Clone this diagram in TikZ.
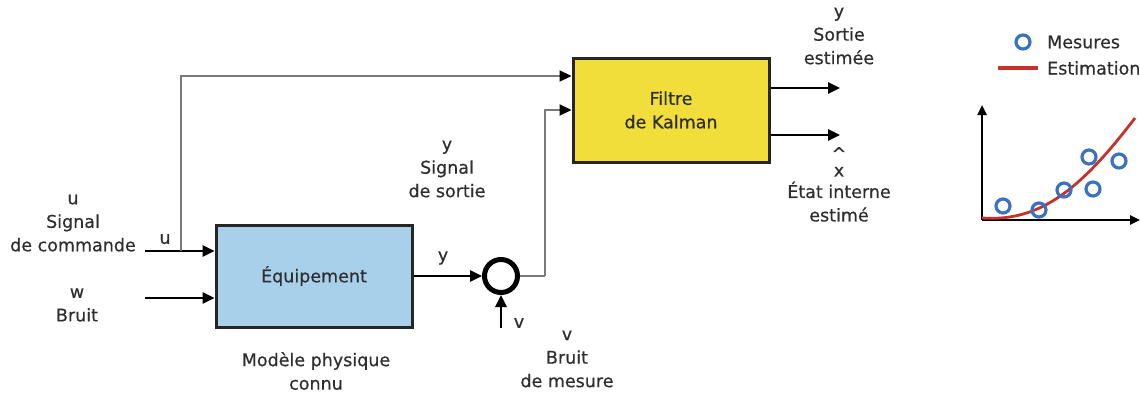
\documentclass[tikz,border=0pt]{standalone}
\usepackage{fontspec}
\setmainfont{DejaVu Sans}[FakeBold=0.5]
\usetikzlibrary{arrows.meta}
\definecolor{txt}{HTML}{2E2E2E}
\definecolor{boxblue}{HTML}{A9D0EB}
\definecolor{boxyellow}{HTML}{F1DE3A}
\definecolor{linegray}{HTML}{7A7A7A}
\definecolor{mblue}{HTML}{3B72C0}
\definecolor{ered}{HTML}{C8302A}
\begin{document}
\begin{tikzpicture}[x=1pt,y=-1pt,
  every node/.style={font=\fontsize{17.5}{23.5}\selectfont, text=txt},
  lbl/.style={align=center, inner sep=0pt},
  blockbox/.style={draw=black!85, line width=3pt, minimum width=196pt, minimum height=102pt, inner sep=0pt, align=center},
  arr/.style={line width=2.6pt, black, -{Triangle[length=12pt,width=11pt]}},
  garr/.style={line width=2.2pt, linegray, -{Triangle[length=12pt,width=11pt,color=black]}},
  gline/.style={line width=2.2pt, linegray},
  meas/.style={circle, draw=mblue, line width=3.2pt, minimum size=14pt, inner sep=0pt},
  axisarr/.style={line width=2.4pt, black, -{Triangle[length=10pt,width=9pt]}}
]
\useasboundingbox (0,0) rectangle (1140,394);

% blocks
\node[blockbox, fill=boxblue] (eq) at (314,276) {Équipement};
\node[blockbox, fill=boxyellow, minimum height=104pt] (kf) at (671,110) {Filtre\\de Kalman};
\node[circle, draw=black, line width=5pt, minimum size=33pt, inner sep=0pt] (sum) at (501,276) {};

% labels
\node[lbl] (ulab) at (73,223) {u\\Signal\\de commande};
\node[lbl] (wlab) at (77,305) {w\\Bruit};
\node[lbl] (ulab2) at (165,239) {u};
\node[lbl] (ylab) at (443,258) {y};
\node[lbl] (vlab) at (519,323) {v};
\node[lbl] (ysort) at (447,169) {y\\Signal\\de sortie};
\node[lbl] (model) at (316,371) {Modèle physique\\connu};
\node[lbl] (vbruit) at (567,359) {v\\Bruit\\de mesure};
\node[lbl] (yest) at (839,36) {y\\Sortie\\estimée};
\node[lbl, anchor=north] (xest) at (839,147) {\textasciicircum\\[-7pt]x\\[-2pt]État interne\\estimé};

% coordinates for free ends
\coordinate (uin) at (145,251);
\coordinate (win) at (145,298);
\coordinate (branch) at (181,251);
\coordinate (top) at (181,76);
\coordinate (kin2) at (545,110);
\coordinate (turn) at (545,276);
\coordinate (vin) at (501,328);
\coordinate (out1) at (840,88);
\coordinate (out2) at (840,135);

% connectors
\draw[arr] (uin) -- (eq.west |- uin);
\draw[arr] (win) -- (eq.west |- win);
\draw[garr] (branch) -- (top) -- (kf.west |- top);
\draw[arr] (eq.east |- sum) -- (sum.west);
\draw[arr] (vin) -- (sum.south);
\draw[gline] (sum.east) -- (turn);
\draw[garr] (turn) -- (kin2) -- (kf.west |- kin2);
\draw[arr] (kf.east |- out1) -- (out1);
\draw[arr] (kf.east |- out2) -- (out2);

% chart
\coordinate (org) at (982,220);
\coordinate (yax) at (982,105);
\coordinate (xax) at (1140,220);
\draw[axisarr] (org) -- (yax);
\draw[axisarr] (org) -- (xax);
\draw[ered, line width=2.8pt] (982,218) .. controls (1040,222) and (1080,190) .. (1135,118);
\node[meas] (m1) at (1003,206) {};
\node[meas] (m2) at (1039,210) {};
\node[meas] (m3) at (1064,190) {};
\node[meas] (m4) at (1089,157) {};
\node[meas] (m5) at (1093,189) {};
\node[meas] (m6) at (1119,161) {};

% legend
\node[meas] (lm) at (1023,42) {};
\node[lbl, anchor=west] (lmt) at (1047,42) {Mesures};
\coordinate (le1) at (998,68);
\coordinate (le2) at (1038,68);
\draw[ered, line width=4.5pt] (le1) -- (le2);
\node[lbl, anchor=west] (let) at (1047,68) {Estimation};
\end{tikzpicture}
\end{document}
